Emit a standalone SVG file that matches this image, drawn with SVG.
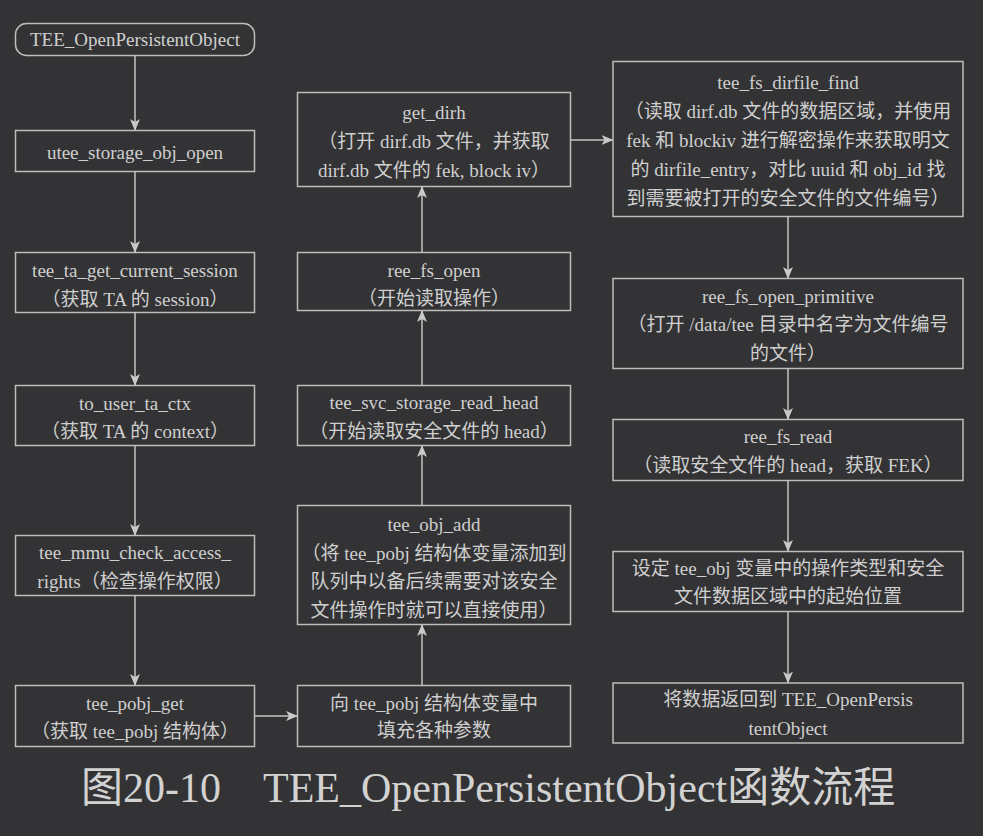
<svg xmlns="http://www.w3.org/2000/svg" width="983" height="836" viewBox="0 0 983 836">
<defs>
<marker id="ah" markerWidth="12" markerHeight="10" refX="11" refY="5" orient="auto" markerUnits="userSpaceOnUse">
<path d="M0,0 L12,5 L0,10 L3,5 z" fill="#c9c9c9"/>
</marker>
<style>
.box{fill:none;stroke:#bdbdbd;stroke-width:1.5}
.t{font-family:"Liberation Serif","Noto Sans CJK SC",serif;font-size:19px;fill:#cfcfcf;text-anchor:middle}
.c{stroke:#c4c4c4;stroke-width:1.5;fill:none;marker-end:url(#ah)}
.cap{font-family:"Liberation Serif","Noto Sans CJK SC",serif;font-size:42px;fill:#d2d2d2}
</style>
</defs>
<rect width="983" height="836" fill="#333335"/>

<g id="n_start"><rect class="box" x="15.5" y="23.5" width="239" height="32" rx="11"/><text class="t" x="135" y="46">TEE_OpenPersistentObject</text></g>
<g id="n_utee"><rect class="box" x="15.5" y="130.5" width="239" height="41"/><text class="t" x="135" y="159">utee_storage_obj_open</text></g>
<g id="n_session"><rect class="box" x="15.5" y="252.5" width="239" height="60"/><text class="t" x="135" y="276.5">tee_ta_get_current_session</text><text class="t" x="135" y="305.5">（获取 TA 的 session）</text></g>
<g id="n_ctx"><rect class="box" x="15.5" y="385.5" width="239" height="60"/><text class="t" x="135" y="409.5">to_user_ta_ctx</text><text class="t" x="135" y="438">（获取 TA 的 context）</text></g>
<g id="n_mmu"><rect class="box" x="15.5" y="535.5" width="239" height="60"/><text class="t" x="135" y="559">tee_mmu_check_access_</text><text class="t" x="135" y="588">rights（检查操作权限）</text></g>
<g id="n_pobj_get"><rect class="box" x="15.5" y="685.5" width="239" height="61"/><text class="t" x="135" y="710">tee_pobj_get</text><text class="t" x="135" y="738">（获取 tee_pobj 结构体）</text></g>

<g id="n_fill"><rect class="box" x="297.5" y="685.5" width="273" height="61"/><text class="t" x="434" y="709.5">向 tee_pobj 结构体变量中</text><text class="t" x="434" y="737">填充各种参数</text></g>
<g id="n_obj_add"><rect class="box" x="297.5" y="505.5" width="273" height="119"/><text class="t" x="434" y="530.5">tee_obj_add</text><text class="t" x="434" y="559.5">（将 tee_pobj 结构体变量添加到</text><text class="t" x="434" y="588">队列中以备后续需要对该安全</text><text class="t" x="434" y="616.5">文件操作时就可以直接使用）</text></g>
<g id="n_read_head"><rect class="box" x="297.5" y="385.5" width="273" height="60"/><text class="t" x="434" y="409">tee_svc_storage_read_head</text><text class="t" x="434" y="438">（开始读取安全文件的 head）</text></g>
<g id="n_ree_open"><rect class="box" x="297.5" y="252.5" width="273" height="58"/><text class="t" x="434" y="276.5">ree_fs_open</text><text class="t" x="434" y="305">（开始读取操作）</text></g>
<g id="n_dirh"><rect class="box" x="297.5" y="92.5" width="273" height="94"/><text class="t" x="434" y="118.5">get_dirh</text><text class="t" x="434" y="147.5">（打开 dirf.db 文件，并获取</text><text class="t" x="434" y="176.5">dirf.db 文件的 fek, block iv）</text></g>

<g id="n_dirfile"><rect class="box" x="613" y="61.5" width="350" height="155"/><text class="t" x="788" y="89">tee_fs_dirfile_find</text><text class="t" x="788" y="118">（读取 dirf.db 文件的数据区域，并使用</text><text class="t" x="788" y="147">fek 和 blockiv 进行解密操作来获取明文</text><text class="t" x="788" y="176">的 dirfile_entry，对比 uuid 和 obj_id 找</text><text class="t" x="788" y="205">到需要被打开的安全文件的文件编号）</text></g>
<g id="n_primitive"><rect class="box" x="613" y="278.5" width="350" height="90"/><text class="t" x="788" y="302.5">ree_fs_open_primitive</text><text class="t" x="788" y="331">（打开 /data/tee 目录中名字为文件编号</text><text class="t" x="788" y="359.5">的文件）</text></g>
<g id="n_read"><rect class="box" x="613" y="419.5" width="350" height="61"/><text class="t" x="788" y="443">ree_fs_read</text><text class="t" x="788" y="471.5">（读取安全文件的 head，获取 FEK）</text></g>
<g id="n_set"><rect class="box" x="613" y="551.5" width="350" height="60"/><text class="t" x="788" y="575">设定 tee_obj 变量中的操作类型和安全</text><text class="t" x="788" y="603">文件数据区域中的起始位置</text></g>
<g id="n_return"><rect class="box" x="613" y="683" width="350" height="60"/><text class="t" x="788" y="706">将数据返回到 TEE_OpenPersis</text><text class="t" x="788" y="735">tentObject</text></g>

<g id="connectors">
<line class="c" x1="135" y1="55.5" x2="135" y2="130"/>
<line class="c" x1="135" y1="171.5" x2="135" y2="252"/>
<line class="c" x1="135" y1="312.5" x2="135" y2="385"/>
<line class="c" x1="135" y1="445.5" x2="135" y2="535"/>
<line class="c" x1="135" y1="595.5" x2="135" y2="685"/>
<line class="c" x1="254.5" y1="716" x2="297" y2="716"/>
<line class="c" x1="422" y1="685.5" x2="422" y2="625"/>
<line class="c" x1="422" y1="505.5" x2="422" y2="446"/>
<line class="c" x1="422" y1="385.5" x2="422" y2="311"/>
<line class="c" x1="422" y1="252.5" x2="422" y2="187"/>
<line class="c" x1="570.5" y1="140" x2="612.5" y2="140"/>
<line class="c" x1="788" y1="216.5" x2="788" y2="278"/>
<line class="c" x1="788" y1="368.5" x2="788" y2="419"/>
<line class="c" x1="788" y1="480.5" x2="788" y2="551"/>
<line class="c" x1="788" y1="611.5" x2="788" y2="682.5"/>
</g>

<text class="cap" x="81" y="802">图20-10　TEE_OpenPersistentObject函数流程</text>
</svg>
